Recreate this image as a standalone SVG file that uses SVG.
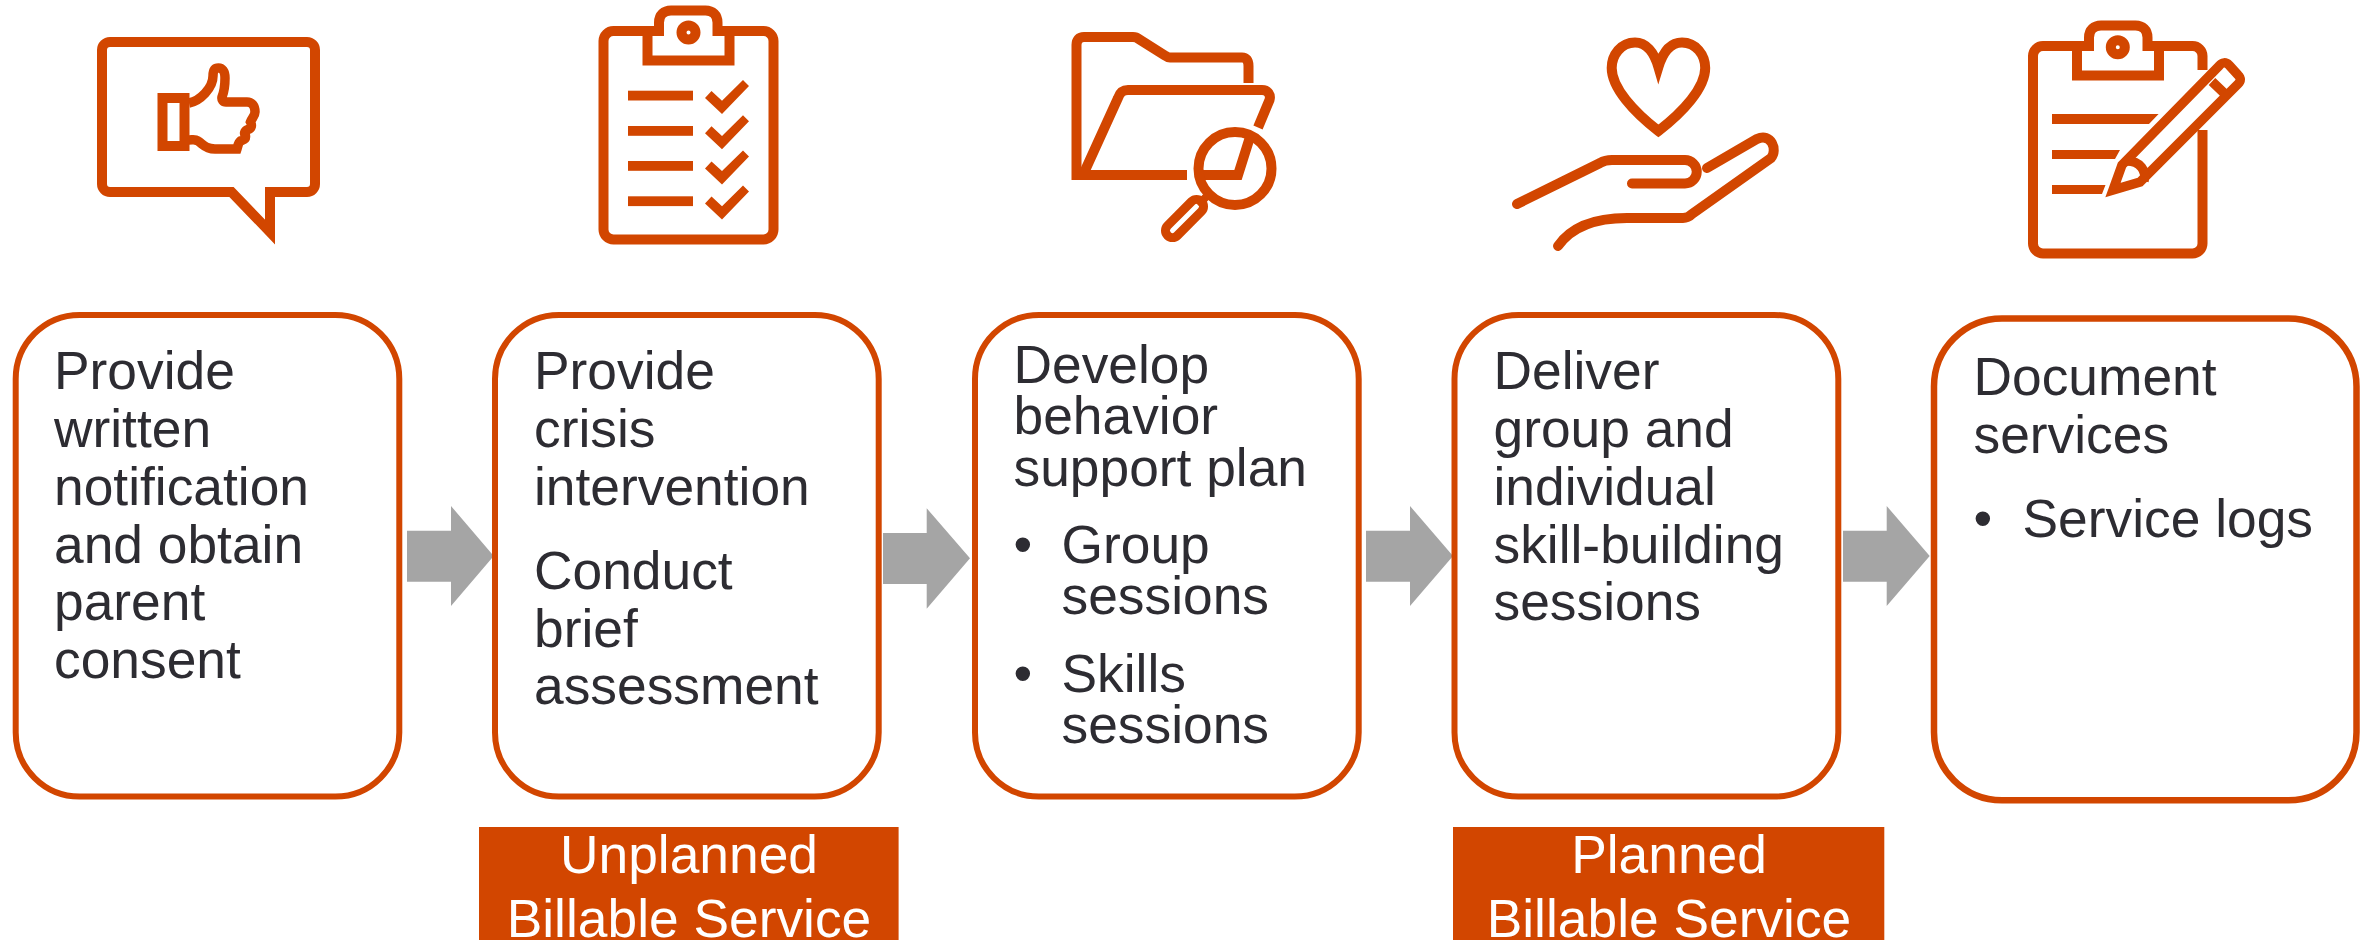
<svg xmlns="http://www.w3.org/2000/svg" width="2374" height="940" viewBox="0 0 2374 940">
<style>
.box{fill:#fff;stroke:#d24600;stroke-width:6}
.ic{fill:none;stroke:#d24600;stroke-width:10;stroke-miterlimit:12}
.sol{fill:#d24600}
.arr{fill:#a5a5a5}
.t{font-family:"Liberation Sans",Arial,sans-serif;font-size:53.33px;fill:#2d2c32}
.w{font-family:"Liberation Sans",Arial,sans-serif;font-size:53.33px;fill:#fff;text-anchor:middle}
</style>
<rect width="2374" height="940" fill="#fff"/>
<g id="icon-thumb">
<path class="ic" d="M110 42H307a8 8 0 0 1 8 8V184a8 8 0 0 1-8 8H270V232L231.500 192H110a8 8 0 0 1-8-8V50a8 8 0 0 1 8-8Z"/>
<rect class="ic" x="162.500" y="98" width="22" height="48"/>
<path class="ic" style="stroke-width:9.500" d="M189 103C200 101 213 88 213 76C213 70 215 68 218.500 68C222 68 225 71 225 78C225 86 224 92 222 97C221.500 100 223 102 226 102H247C252 102 255 106 255 112C255 116 252 118 250.500 122C252 125 252 128 248 129.500C244 131 244 134 245.500 136C246 140 243 140 240.500 141C238 143 238 146 237 149H215C205 149 203 144 198 141C195 139 193 140 189 140"/>
</g>
<g id="icon-checklist">
<path class="ic" d="M647.500 31V60.500H729.500V31M613.500 31H659V22.500C659 15 664 10.500 671 10.500H705.500C712.500 10.500 717.500 15 717.500 22.500V31H763.500C769 31 773.500 35.500 773.500 41V229.500C773.500 235 769 239.500 763.500 239.500H613.500C608 239.500 603.500 235 603.500 229.500V41C603.500 35.500 608 31 613.500 31Z"/>
<circle class="ic" cx="688.500" cy="32.600" r="7"/>
<g class="sol">
<rect x="628" y="90.700" width="65" height="9.800"/><rect x="628" y="126" width="65" height="9.800"/><rect x="628" y="161" width="65" height="9.800"/><rect x="628" y="196.300" width="65" height="9.800"/>
<path d="M711.500 91L722 100.700L743 80L749 86L722 114L705 98Z"/>
<path d="M711.500 126.200L722 135.900L743 115.200L749 121.200L722 149.200L705 133.200Z"/>
<path d="M711.500 161.400L722 171.100L743 150.400L749 156.400L722 184.400L705 168.400Z"/>
<path d="M711.500 196.600L722 206.300L743 185.600L749 191.600L722 219.600L705 203.600Z"/>
</g>
</g>
<g id="icon-folder">
<path class="ic" d="M1248.500 83V66C1248.500 60 1246 57.500 1242 57.500H1170C1168 57.500 1167 57 1165 55.500L1138 38.500C1137 37.500 1135 37 1133 37H1084C1079 37 1076.500 40 1076.500 45V180"/>
<path class="ic" d="M1187 175H1083L1118 98C1120 92 1123 90 1128 90H1262C1268 90 1271 95 1269.500 100L1258 127.500"/>
<path class="ic" d="M1202 175H1238L1250 137"/>
<circle class="ic" cx="1235" cy="168.500" r="36.500"/>
<path class="ic" style="stroke-width:8" d="M1198 205L1208 195"/>
<rect class="ic" style="stroke-width:9" x="1160.500" y="211.500" width="48" height="14" rx="7" transform="rotate(-45 1184.500 218.500)"/>
</g>
<g id="icon-heart">
<path class="ic" d="M1658.400 67C1654 52 1646 42.500 1635 42.500C1621 42.500 1611.700 55 1611.700 68C1611.700 88 1634 112 1658.400 131C1683 112 1705.200 88 1705.200 68C1705.200 55 1696 42.500 1682 42.500C1671 42.500 1663 52 1658.400 67Z"/>
<path class="ic" style="stroke-linecap:round" d="M1517 204L1600 163Q1605 160 1612 160H1685A11.750 11.750 0 0 1 1685 183.500H1632"/>
<path class="ic" style="stroke-linecap:round" d="M1558 246C1572 226 1595 218 1627 218H1683Q1688 218 1692 214L1771 158C1778 150 1771 132 1757 139L1707 168"/>
</g>
<g id="icon-notes">
<path class="ic" d="M2077 46V75.500H2159V46M2202.500 70V56C2202.500 50.500 2198 46 2192.500 46H2147.500V37.500C2147.500 30 2142.500 25.500 2135.500 25.500H2101C2094 25.500 2089 30 2089 37.500V46H2043C2037.500 46 2033 50.500 2033 56V243.500C2033 249 2037.500 253.500 2043 253.500H2192.500C2198 253.500 2202.500 249 2202.500 243.500V130"/>
<circle class="ic" cx="2117.800" cy="47.300" r="7"/>
<path class="sol" d="M2052 114H2158.600L2149 124H2052ZM2052 150H2120L2115 159H2052ZM2052 185H2105.500L2102 194H2052Z"/>
<path class="ic" style="stroke-width:9.500" d="M2113 190L2122 165L2219 66C2222 62 2226 62 2229 65L2238 75C2241 78 2241 81 2238 84L2140 182Z"/>
<path class="ic" style="stroke-width:9.500" d="M2212 81.500L2224 93M2127 161C2140 161 2147 171 2144 181"/>
</g>
<g id="connectors">
<path id="a1" class="arr" d="M407 530.700H451V506L493.700 556L451 606V581.700H407Z"/>
<path id="a2" class="arr" d="M883 533H926.700V508.300L970 558.300L926.700 608.700V584H883Z"/>
<path id="a3" class="arr" d="M1366 530.700H1410V506L1453 556L1410 606V581.700H1366Z"/>
<path id="a4" class="arr" d="M1843 530.700H1886.700V506L1929.700 556L1886.700 606V581.700H1843Z"/>
</g>
<g id="n1">
<rect class="box" x="15.700" y="315" width="383.600" height="481.500" rx="64"/>
<text class="t" x="54" y="389">Provide</text><text class="t" x="54" y="447">written</text><text class="t" x="54" y="504.700">notification</text><text class="t" x="54" y="562.500">and obtain</text><text class="t" x="54" y="620.300">parent</text><text class="t" x="54" y="677.700">consent</text>
</g>
<g id="n2">
<rect class="box" x="495" y="315" width="383.700" height="481.500" rx="64"/>
<text class="t" x="534" y="389">Provide</text><text class="t" x="534" y="447">crisis</text><text class="t" x="534" y="504.700">intervention</text><text class="t" x="534" y="589">Conduct</text><text class="t" x="534" y="646.700">brief</text><text class="t" x="534" y="704.300">assessment</text>
</g>
<g id="n3">
<rect class="box" x="975" y="315" width="383.700" height="481.500" rx="64"/>
<text class="t" x="1013.500" y="383">Develop</text><text class="t" x="1013.500" y="434.300">behavior</text><text class="t" x="1013.500" y="485.700">support plan</text>
<text class="t" x="1013.500" y="562.700">•</text><text class="t" x="1061.500" y="562.700">Group</text><text class="t" x="1061.500" y="613.700">sessions</text>
<text class="t" x="1013.500" y="691.700">•</text><text class="t" x="1061.500" y="691.700">Skills</text><text class="t" x="1061.500" y="743.300">sessions</text>
</g>
<g id="n4">
<rect class="box" x="1454.500" y="315" width="383.800" height="481.500" rx="64"/>
<text class="t" x="1493.500" y="389">Deliver</text><text class="t" x="1493.500" y="447">group and</text><text class="t" x="1493.500" y="504.700">individual</text><text class="t" x="1493.500" y="562.500">skill-building</text><text class="t" x="1493.500" y="620.300">sessions</text>
</g>
<g id="n5">
<rect class="box" x="1934" y="318.500" width="422.500" height="481.800" rx="68" style="stroke-width:6.500"/>
<text class="t" x="1973.500" y="395">Document</text><text class="t" x="1973.500" y="452.700">services</text>
<text class="t" x="1973.500" y="537">•</text><text class="t" x="2022.500" y="537">Service logs</text>
</g>
<g id="badge-unplanned">
<rect class="sol" x="479" y="827" width="419.600" height="113"/>
<text class="w" x="689" y="873">Unplanned</text><text class="w" x="689" y="937">Billable Service</text>
</g>
<g id="badge-planned">
<rect class="sol" x="1453" y="827" width="431.300" height="113"/>
<text class="w" x="1669" y="873">Planned</text><text class="w" x="1669" y="937">Billable Service</text>
</g>
</svg>
